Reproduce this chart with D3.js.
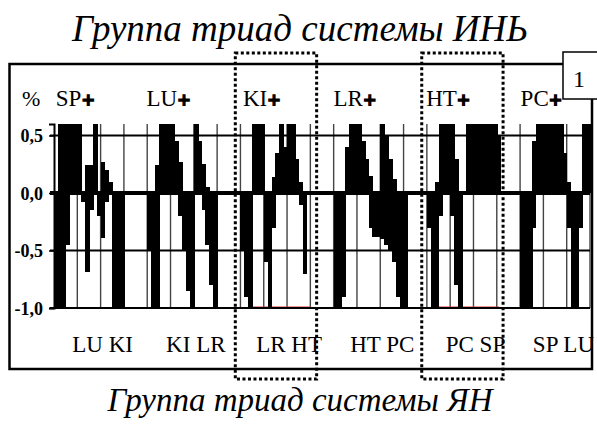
<!DOCTYPE html>
<html><head><meta charset="utf-8">
<script src="https://cdn.jsdelivr.net/npm/d3@7"></script>
<style>body{margin:0;background:#fff}svg{display:block}</style>
</head><body>
<svg id="c" width="597" height="425"></svg>
<script>
const titleTop = "Группа триад системы ИНЬ";
const titleBottom = "Группа триад системы ЯН";
const groups = ["SP", "LU", "KI", "LR", "HT", "PC"];
const pairLabels = ["LU KI", "KI LR", "LR HT", "HT PC", "PC SP", "SP LU"];
const yTicks = [0.5, 0.0, -0.5, -1.0];
const boxedGroups = [2, 4];
const panelNumber = "1";
const columns = 23;
const slotsPerColumn = 6;
// positive deviations, 6 slots per grid column
const upValues = [
  0, 0.6, 0.6, 0.6, 0.6, 0.6,
  0.6, 0, 0.24, 0.24, 0.6, 0,
  0.27, 0.2, 0.1, 0, 0, 0,
  0, 0, 0, 0, 0, 0,
  0, 0, 0.24, 0.6, 0.6, 0.6,
  0.6, 0.45, 0.27, 0, 0, 0,
  0.6, 0.45, 0.25, 0.05, 0, 0,
  0, 0, 0, 0, 0, 0,
  0, 0, 0, 0.6, 0.6, 0.6,
  0, 0, 0.14, 0.35, 0.6, 0.4,
  0.6, 0.6, 0.3, 0.1, 0, 0,
  0, 0, 0, 0, 0, 0,
  0, 0, 0, 0.4, 0.6, 0.6,
  0.6, 0.45, 0.3, 0.15, 0, 0,
  0.6, 0.5, 0.3, 0.12, 0, 0,
  0, 0, 0, 0, 0, 0,
  0, 0, 0.1, 0.6, 0.6, 0.6,
  0.6, 0.3, 0, 0, 0.6, 0.6,
  0.6, 0.6, 0.6, 0.6, 0.6, 0.6,
  0.5, 0, 0, 0, 0, 0,
  0, 0, 0, 0.45, 0.6, 0.6,
  0.6, 0.6, 0.6, 0.6, 0.6, 0.35,
  0.1, 0, 0, 0, 0.6, 0.6
];
// negative deviations, 6 slots per grid column
const downValues = [
  -1, -1, -1, -0.45, 0, 0,
  0, -0.08, -0.69, -0.15, 0, -0.2,
  -0.39, -0.08, 0, -1, -1, -1,
  0, 0, 0, 0, 0, 0,
  -0.5, -1, -1, 0, 0, 0,
  0, 0, -0.2, -0.5, -0.85, -1,
  0, 0, -0.15, -0.45, -0.8, -1,
  0, 0, 0, 0, 0, 0,
  -0.5, -0.9, -1, 0, 0, 0,
  -0.6, -1, -0.3, 0, 0, 0,
  0, 0, 0, -0.1, -0.7, 0,
  0, 0, 0, 0, 0, 0,
  -1, -1, -0.9, 0, 0, 0,
  0, 0, 0, -0.3, -0.38, -0.38,
  -0.4, -0.45, -0.5, -0.6, -0.9, -1,
  -1, 0, 0, 0, 0, 0,
  -0.3, -1, -1, -0.2, 0, 0,
  -0.2, -0.8, -1, 0, 0, 0,
  0, 0, 0, 0, 0, 0,
  0, 0, 0, 0, 0, 0,
  -1, -1, -1, -0.3, 0, 0,
  0, 0, 0, 0, 0, 0,
  -0.3, -1, -1, -0.3, 0, 0
];
// faint red trace visible along -1,0 (column ranges)
const redTrace = [[8.4, 11.0], [16.5, 19.1]];

const svg = d3.select("#c");
const serif = "'Liberation Serif','Times New Roman',serif";
const x = d3.scaleLinear().domain([0, columns]).range([54, 590]);
const y = d3.scaleLinear().domain([-1, 0.6]).range([308, 124]);
const slot = i => x(i / slotsPerColumn);

// titles
svg.append("text").attr("x", 300).attr("y", 41).attr("text-anchor", "middle")
  .attr("font-family", serif).attr("font-style", "italic").attr("font-size", 37)
  .text(titleTop);
svg.append("text").attr("x", 300).attr("y", 411).attr("text-anchor", "middle")
  .attr("font-family", serif).attr("font-style", "italic").attr("font-size", 33)
  .text(titleBottom);

// frame
svg.append("rect").attr("x", 9.5).attr("y", 64).attr("width", 582.5).attr("height", 305)
  .attr("fill", "none").attr("stroke", "#000").attr("stroke-width", 2.5);

// vertical grid
svg.append("g").selectAll("line").data(d3.range(1, columns + 1)).join("line")
  .attr("x1", d => x(d)).attr("x2", d => x(d)).attr("y1", y(0.6)).attr("y2", y(-1))
  .attr("stroke", "#444").attr("stroke-width", 1.4);

// red trace
svg.append("g").selectAll("line").data(redTrace).join("line")
  .attr("x1", d => x(d[0])).attr("x2", d => x(d[1])).attr("y1", y(-1) - 1).attr("y2", y(-1) - 1)
  .attr("stroke", "#e03030").attr("stroke-width", 1);

// bars
const bars = svg.append("g").attr("fill", "#000").attr("shape-rendering", "crispEdges");
bars.selectAll("rect.up").data(upValues.map((v, i) => ({ v, i })).filter(d => d.v > 0)).join("rect")
  .attr("class", "up")
  .attr("x", d => slot(d.i)).attr("width", d => slot(d.i + 1) - slot(d.i) + 0.8)
  .attr("y", d => y(d.v)).attr("height", d => y(0) - y(d.v));
bars.selectAll("rect.down").data(downValues.map((v, i) => ({ v, i })).filter(d => d.v < 0)).join("rect")
  .attr("class", "down")
  .attr("x", d => slot(d.i)).attr("width", d => slot(d.i + 1) - slot(d.i) + 0.8)
  .attr("y", y(0)).attr("height", d => y(d.v) - y(0));

// horizontal grid
svg.append("g").selectAll("line").data(yTicks).join("line")
  .attr("x1", 50).attr("x2", 590).attr("y1", d => y(d)).attr("y2", d => y(d))
  .attr("stroke", "#000").attr("stroke-width", d => d === 0 ? 4 : 2);

// y axis
const fmt = d => d.toFixed(1).replace(".", ",");
const ax = svg.append("g").attr("transform", "translate(54,0)")
  .call(d3.axisLeft(y).tickValues(yTicks).tickFormat(fmt).tickSize(5).tickPadding(6));
ax.attr("font-family", serif);
ax.select(".domain").attr("stroke", "#000").attr("stroke-width", 2);
ax.selectAll(".tick line").attr("stroke", "#000").attr("stroke-width", 1.5);
ax.selectAll(".tick text").attr("font-family", serif).attr("font-weight", "bold")
  .attr("font-size", 18).attr("fill", "#000").attr("dy", "0.35em");

svg.append("text").attr("x", 22).attr("y", 106).attr("font-family", serif)
  .attr("font-size", 22).text("%");

// group labels
const gl = svg.append("g").selectAll("text").data(groups).join("text")
  .attr("x", (d, i) => x(i * 4 + 1) - 2).attr("y", 106).attr("text-anchor", "middle")
  .attr("font-family", serif).attr("font-size", 23);
gl.append("tspan").text(d => d);
gl.append("tspan").attr("font-family", "'DejaVu Sans',sans-serif").attr("font-size", 16).text("✚");

// pair labels
svg.append("g").selectAll("text").data(pairLabels).join("text")
  .attr("y", 352).attr("text-anchor", "middle")
  .attr("font-family", serif).attr("font-size", 23).text(d => d)
  .attr("x", function (d, i) {
    const w = this.getComputedTextLength();
    return Math.min(x(i * 4 + 2) + 2, 594 - w / 2);
  });

// dotted boxes
svg.append("g").selectAll("rect").data(boxedGroups).join("rect")
  .attr("x", g => x(g * 4 - 0.22)).attr("width", g => x(g * 4 + 3.27) - x(g * 4 - 0.22))
  .attr("y", 53).attr("height", 326)
  .attr("fill", "none").attr("stroke", "#000").attr("stroke-width", 3)
  .attr("stroke-dasharray", "3,2.5");

// panel number box
svg.append("rect").attr("x", 563).attr("y", 52).attr("width", 45).attr("height", 47)
  .attr("fill", "#fff").attr("stroke", "#000").attr("stroke-width", 1.5);
svg.append("text").attr("x", 579).attr("y", 87).attr("text-anchor", "middle")
  .attr("font-family", serif).attr("font-size", 24).text(panelNumber);
</script>
</body></html>
